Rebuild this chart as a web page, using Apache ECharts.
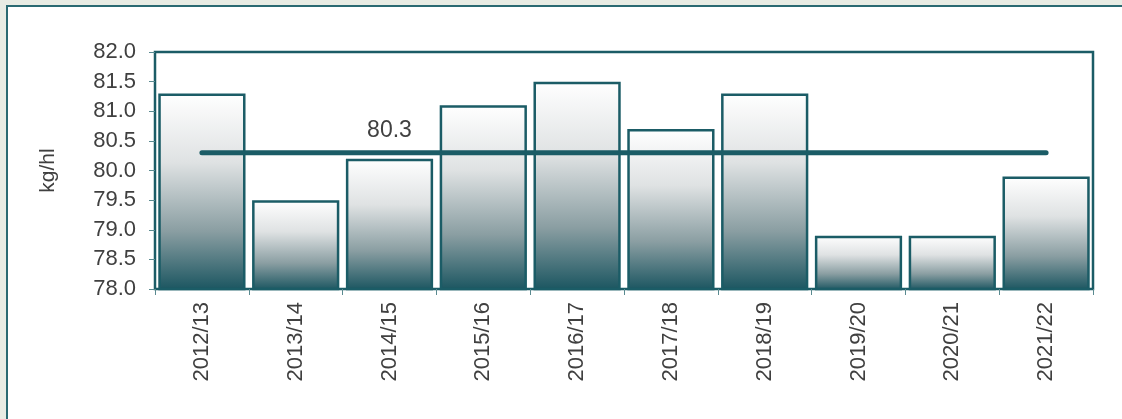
<!DOCTYPE html>
<html>
<head>
<meta charset="utf-8">
<script src="https://cdn.jsdelivr.net/npm/echarts@6/dist/echarts.min.js"></script>
<style>
html,body{margin:0;padding:0;background:#e8ece4;}
#chart{width:1122px;height:419px;}
</style>
</head>
<body>
<div id="chart"></div>
<script>
var categories = ['2012/13','2013/14','2014/15','2015/16','2016/17','2017/18','2018/19','2019/20','2020/21','2021/22'];
var values = [81.3, 79.5, 80.2, 81.1, 81.5, 80.7, 81.3, 78.9, 78.9, 79.9];
var meanValue = 80.3;
var meanLabelIndex = 2;
var yTicks = [78.0, 78.5, 79.0, 79.5, 80.0, 80.5, 81.0, 81.5, 82.0];

var teal = '#1b5c66';
var textColor = '#404040';
var font = 'Liberation Sans, Arial, sans-serif';

var meanData = categories.map(function(c, i){
  return i === meanLabelIndex ? {value: meanValue, label: {show: true}} : meanValue;
});

var chart = echarts.init(document.getElementById('chart'), null, {renderer: 'canvas'});
chart.setOption({
  backgroundColor: '#e8ece4',
  animation: false,
  graphic: [{
    type: 'rect',
    shape: {x: 7, y: 6, width: 1130, height: 430},
    style: {fill: '#ffffff', stroke: '#2a6a72', lineWidth: 2},
    z: -10
  }],
  grid: {left: 155, right: 29, top: 52, bottom: 130, show: true, borderColor: teal, borderWidth: 2.5, backgroundColor: 'transparent'},
  xAxis: {
    type: 'category',
    data: categories,
    boundaryGap: true,
    axisLine: {show: true, lineStyle: {color: teal, width: 2}},
    axisTick: {show: true, alignWithLabel: false, length: 6, lineStyle: {color: '#5a8a90', width: 1}},
    axisLabel: {rotate: 90, margin: 13, color: textColor, fontSize: 22, fontFamily: font}
  },
  yAxis: {
    type: 'value',
    min: yTicks[0],
    max: yTicks[yTicks.length - 1],
    interval: 0.5,
    name: 'kg/hl',
    nameLocation: 'middle',
    nameGap: 96,
    nameRotate: 90,
    nameTextStyle: {color: textColor, fontSize: 21, fontFamily: font},
    axisLine: {show: true, lineStyle: {color: teal, width: 2}},
    axisTick: {show: true, length: 6, lineStyle: {color: '#5a8a90', width: 1}},
    splitLine: {show: false},
    axisLabel: {margin: 19, color: textColor, fontSize: 22, fontFamily: font,
      formatter: function(v){ return v.toFixed(1); }}
  },
  series: [{
    type: 'bar',
    data: values,
    barCategoryGap: '7%',
    itemStyle: {
      color: new echarts.graphic.LinearGradient(0, 0, 0, 1, [
        {offset: 0, color: '#ffffff'},
        {offset: 0.35, color: '#dfe2e3'},
        {offset: 0.7, color: '#8a9ea2'},
        {offset: 1, color: '#1a5560'}
      ]),
      borderColor: teal,
      borderWidth: 2.5
    }
  }, {
    type: 'line',
    data: meanData,
    symbol: 'circle',
    symbolSize: 0,
    showSymbol: true,
    lineStyle: {color: teal, width: 5, cap: 'round'},
    itemStyle: {color: teal},
    label: {show: false, position: 'top', distance: 11, color: textColor, fontSize: 23, fontFamily: font,
      formatter: function(p){ return p.value.toFixed(1); }},
    z: 5
  }]
});
</script>
</body>
</html>
